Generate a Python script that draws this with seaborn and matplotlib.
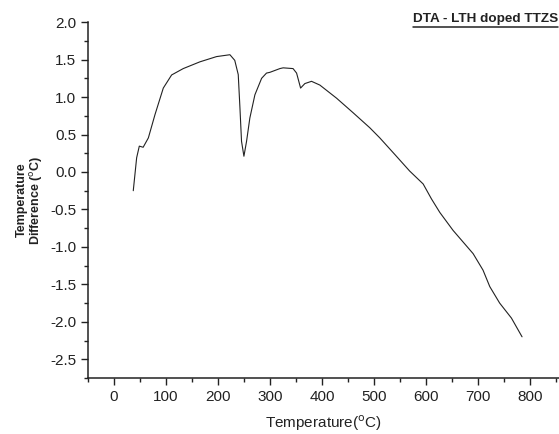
import numpy as np
import pandas as pd
import matplotlib
matplotlib.use('Agg')
import matplotlib.pyplot as plt
from matplotlib.lines import Line2D
from matplotlib.ticker import MultipleLocator
import seaborn as sns

# DTA curve
temperature = [37, 43.5, 48.6, 56, 66, 78.7, 94.7, 110.7, 133, 165, 197, 222.7, 232, 238.7,
               242, 245, 249.6, 254.7, 261, 270.7, 283.6, 293, 299.5, 318.7, 325, 344,
               350.8, 358.5, 366.7, 379.5, 395.5, 427.6, 459.5, 491.5, 510.7, 540, 568,
               594, 610, 626, 651.5, 690, 709, 722, 741, 763.6, 784]
delta_t = [-0.25, 0.19, 0.345, 0.33, 0.455, 0.765, 1.12, 1.295, 1.38, 1.47, 1.54, 1.565,
           1.49, 1.30, 0.85, 0.41, 0.21, 0.41, 0.72, 1.03, 1.25, 1.32, 1.33, 1.38, 1.39,
           1.38, 1.32, 1.12, 1.18, 1.21, 1.16, 0.985, 0.79, 0.59, 0.455, 0.23, 0.013,
           -0.16, -0.36, -0.54, -0.78, -1.09, -1.31, -1.53, -1.75, -1.95, -2.20]

df = pd.DataFrame({'Temperature': temperature, 'DeltaT': delta_t})

sns.set_style('ticks')
plt.rcParams['font.family'] = ['Liberation Sans', 'DejaVu Sans']
plt.rcParams['axes.unicode_minus'] = False

fig = plt.figure(figsize=(5.59, 4.34), dpi=100)
ax = fig.add_axes([0.1574, 0.129, 0.8426, 0.820])
sns.lineplot(data=df, x='Temperature', y='DeltaT', ax=ax, color='#222222', linewidth=0.8)

ax.set_xlim(-50, 855)
ax.set_ylim(-2.75, 2.0)
ax.xaxis.set_major_locator(MultipleLocator(100))
ax.xaxis.set_minor_locator(MultipleLocator(50))
ax.yaxis.set_major_locator(MultipleLocator(0.5))
ax.yaxis.set_minor_locator(MultipleLocator(0.25))
ax.tick_params(which='major', length=5, width=1, labelsize=11, color='#222222', labelcolor='#222222')
ax.tick_params(which='minor', length=3, width=1, color='#222222')
ax.set_xticks(range(0, 900, 100))
ax.set_xticklabels([str(v) for v in range(0, 900, 100)])
ax.set_yticks(np.arange(-2.5, 2.01, 0.5))
ax.set_yticklabels(['%.1f' % v for v in np.arange(-2.5, 2.01, 0.5)])
for s in ['top', 'right']:
    ax.spines[s].set_visible(False)
for s in ['left', 'bottom']:
    ax.spines[s].set_linewidth(1.1)
    ax.spines[s].set_color('#222222')

ax.set_xlabel('Temperature($^{\\mathrm{o}}$C)', fontsize=11, color='#222222', labelpad=7)
ax.set_ylabel('Temperature\nDifference ($^{\\mathrm{o}}$C)', fontsize=9, fontweight='bold',
              color='#222222', labelpad=4, linespacing=1.0)

fig.text(0.998, 0.957, 'DTA - LTH doped TTZS', ha='right', va='center', fontsize=9.7,
         fontweight='bold', color='#222222')
fig.add_artist(Line2D([0.739, 0.998], [0.9385, 0.9385], color='#222222', linewidth=1.1,
                      transform=fig.transFigure))

fig.savefig('out.png', dpi=100)
